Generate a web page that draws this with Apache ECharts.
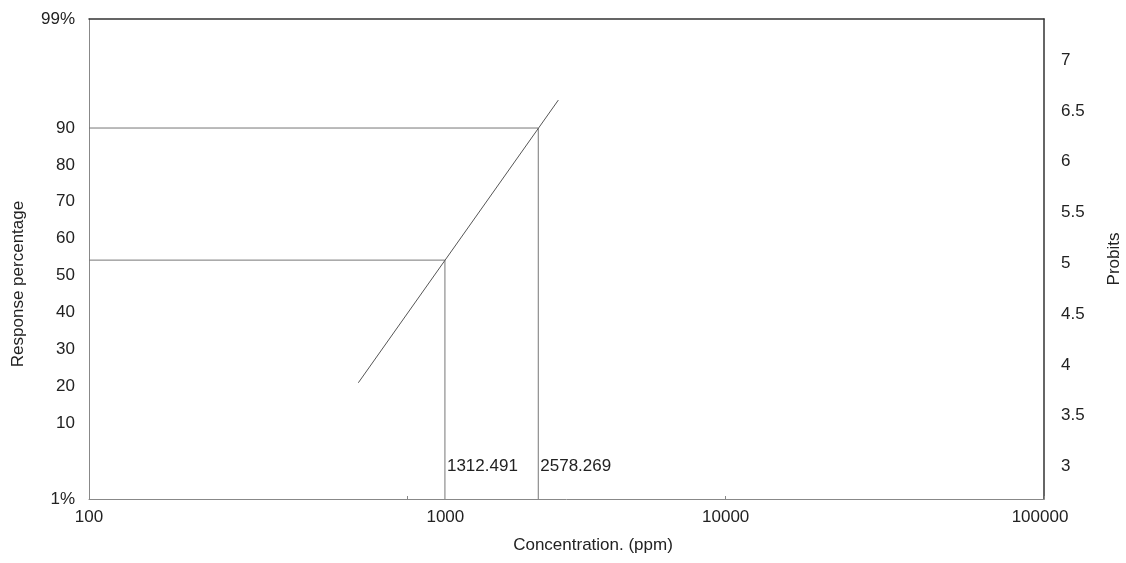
<!DOCTYPE html>
<html>
<head>
<meta charset="utf-8">
<script src="https://cdn.jsdelivr.net/npm/echarts@6/dist/echarts.min.js"></script>
<style>
  html, body { margin: 0; padding: 0; background: #fff; }
  #chart { width: 1126px; height: 563px; }
</style>
</head>
<body>
<div id="chart"></div>
<script>
(function () {
    // fitted probit line (concentration, probit)
    const fitConc = [701.6, 2981]
    const fitProbit = [3.824, 6.606]

    // LC50 / LC90 guide points
    const lcConc = [1312.491, 2578.269]
    const lcProbit = [5.031, 6.331]
    const lcLabels = ['1312.491', '2578.269']

    // axis ranges and tick labels
    const concTicks = [100, 1000, 10000, 100000]
    const probitTicks = [3, 3.5, 4, 4.5, 5, 5.5, 6, 6.5, 7]
    const probitMin = 2.68
    const probitMax = 7.404
    const pctMin = -10.61
    const pctMax = 119.56
    const pctTicks = [pctMin, 10, 20, 30, 40, 50, 60, 70, 80, 90, pctMax]
    const labelProbit = 3.0

    const font = 'Liberation Sans, Arial, sans-serif'
    const txt = '#222'
    const fs = 17

    const chart = echarts.init(document.getElementById('chart'))

    const fitLine = fitConc.map((c, i) => [c, fitProbit[i]])
    const guides = lcConc.map((c, i) => ({
        type: 'line',
        xAxisIndex: 0,
        yAxisIndex: 1,
        symbol: 'none',
        silent: true,
        lineStyle: { color: '#777', width: 1 },
        data: [[concTicks[0], lcProbit[i]], [c, lcProbit[i]], [c, probitMin]],
        z: 2
    }))

    const options = {
        animation: false,
        grid: { left: 89, right: 82, top: 19, bottom: 64, outerBoundsMode: 'none' },
        xAxis: [
            {
                type: 'log',
                min: 100,
                max: 100000,
                position: 'bottom',
                name: 'Concentration. (ppm)',
                nameLocation: 'middle',
                nameGap: 38,
                nameTextStyle: { fontFamily: font, fontSize: fs, color: txt, padding: [0, 0, 0, 53] },
                axisLine: { onZero: false, lineStyle: { color: '#888', width: 1 } },
                axisTick: { show: true, inside: true, length: 3, lineStyle: { color: '#888' } },
                minorTick: { show: false },
                splitLine: { show: false },
                axisLabel: {
                    margin: 10,
                    fontFamily: font,
                    fontSize: fs,
                    color: txt,
                    formatter: function (v) {
                        if (v === 1000) return '{s|1000}'
                        if (v === 100000) return '{e|100000}'
                        return String(v)
                    },
                    rich: {
                        s: { fontFamily: font, fontSize: fs, color: txt, padding: [0, 0, 0, 76] },
                        e: { fontFamily: font, fontSize: fs, color: txt, padding: [0, 8, 0, 0] }
                    }
                }
            },
            {
                type: 'log',
                min: 100,
                max: 100000,
                position: 'top',
                axisLine: { onZero: false, lineStyle: { color: '#333', width: 1.5 } },
                axisTick: { show: false },
                axisLabel: { show: false },
                splitLine: { show: false }
            }
        ],
        yAxis: [
            {
                type: 'value',
                position: 'left',
                min: pctMin,
                max: pctMax,
                name: 'Response percentage',
                nameLocation: 'middle',
                nameGap: 62,
                nameTextStyle: { fontFamily: font, fontSize: fs, color: txt, padding: [0, 50, 0, 0] },
                axisLine: { show: true, onZero: false, lineStyle: { color: '#888', width: 1 } },
                axisTick: { show: false },
                splitLine: { show: false },
                axisLabel: {
                    margin: 14,
                    fontFamily: font,
                    fontSize: fs,
                    color: txt,
                    customValues: pctTicks,
                    formatter: function (v) {
                        if (v === pctMin) return '1%'
                        if (v === pctMax) return '99%'
                        return String(v)
                    }
                }
            },
            {
                type: 'value',
                position: 'right',
                min: probitMin,
                max: probitMax,
                name: 'Probits',
                nameLocation: 'middle',
                nameGap: 62,
                nameTextStyle: { fontFamily: font, fontSize: fs, color: txt },
                axisLine: { show: true, onZero: false, lineStyle: { color: '#333', width: 1.5 } },
                axisTick: { show: false },
                splitLine: { show: false },
                axisLabel: {
                    margin: 17,
                    fontFamily: font,
                    fontSize: fs,
                    color: txt,
                    customValues: probitTicks
                }
            }
        ],
        series: [
            {
                type: 'line',
                xAxisIndex: 0,
                yAxisIndex: 1,
                symbol: 'none',
                silent: true,
                lineStyle: { color: '#555', width: 1 },
                data: fitLine,
                z: 3
            },
            ...guides,
            {
                type: 'scatter',
                xAxisIndex: 0,
                yAxisIndex: 1,
                symbolSize: 0,
                silent: true,
                data: lcConc.map((c, i) => ({ value: [c, labelProbit], name: lcLabels[i] })),
                label: {
                    show: true,
                    position: 'right',
                    distance: 2,
                    fontFamily: font,
                    fontSize: fs,
                    color: txt,
                    opacity: 1,
                    formatter: '{b}'
                },
                z: 4
            }
        ]
    }

    chart.setOption(options)

    window.addEventListener('resize', function () {
        chart.resize()
    })
})()
</script>
</body>
</html>
